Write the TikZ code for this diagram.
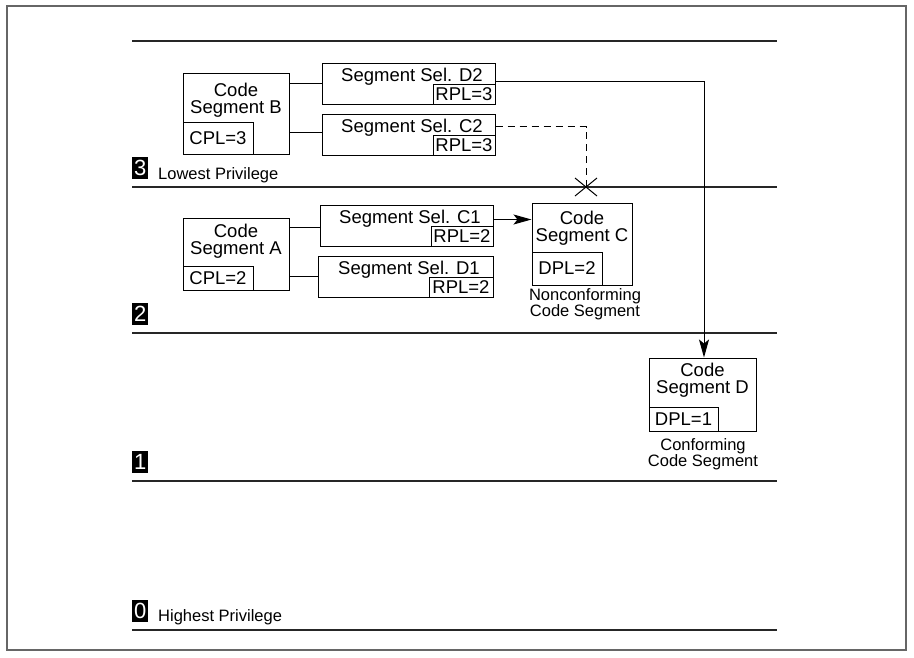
\documentclass[tikz,border=0pt]{standalone}
\usepackage{fontspec}
\setmainfont{Liberation Sans}
\usetikzlibrary{arrows.meta, positioning, calc}

\newcommand{\boxfont}{\fontsize{18.5}{17}\selectfont}
\newcommand{\notefont}{\fontsize{16.5}{16.5}\selectfont}

\begin{document}
\begin{tikzpicture}[
    x=1pt, y=-1pt,
    ring/.style={line width=1.1pt, draw=black!85},
    codebox/.style={draw, line width=1pt, inner sep=0pt},
    selbox/.style={draw, line width=1pt, inner sep=0pt, minimum width=173pt, minimum height=41pt},
    plbox/.style={draw, line width=1pt, inner sep=0pt, font=\boxfont},
    boxtext/.style={inner sep=0pt, align=center, font=\boxfont},
    note/.style={inner sep=0pt, align=center, font=\notefont},
    levelbox/.style={fill=black, text=white, inner sep=0pt, minimum width=16pt, minimum height=22pt, anchor=south west, font=\fontsize{22}{22}\selectfont},
    levelname/.style={inner sep=0pt, anchor=base west, font=\notefont},
    link/.style={line width=1pt},
    arrow/.style={line width=1pt, -{Stealth[length=18pt, width=10pt, inset=4pt]}},
    denied/.style={line width=1pt, dashed, dash pattern=on 7pt off 5pt}
]
    \useasboundingbox (0,0) rectangle (914,657);
    \draw[line width=1.4pt, draw=black!60] (7,6) rectangle (906,650);

    % Privilege rings
    \foreach \y in {41,187,333,481,630}
        \draw[ring] (132,\y) -- (777,\y);

    \node[levelbox] (L3) at (132,179) {3};
    \node[levelbox] (L2) at (132,325) {2};
    \node[levelbox] (L1) at (132,473) {1};
    \node[levelbox] (L0) at (132,622) {0};
    \node[levelname] (L3name) at (158,179) {Lowest Privilege};
    \node[levelname] (L0name) at (158,621) {Highest Privilege};

    % Ring 3: code segment B and its selectors
    \node[codebox, minimum width=106pt, minimum height=81pt] (B) at (236,113.5) {};
    \node[boxtext] (Btext) at (236,100) {Code\\Segment B};
    \node[plbox, anchor=south west, minimum width=70pt, minimum height=32pt] (Bcpl) at (B.south west) {CPL=3};

    \node[selbox] (D2) at (408.5,83.5) {};
    \node[boxtext] (D2text) at (412,77) {Segment Sel. D2};
    \node[plbox, anchor=south east, minimum width=62pt, minimum height=20pt] (D2rpl) at (D2.south east) {RPL=3};

    \node[selbox] (C2) at (408.5,134.5) {};
    \node[boxtext] (C2text) at (412,128) {Segment Sel. C2};
    \node[plbox, anchor=south east, minimum width=62pt, minimum height=20pt] (C2rpl) at (C2.south east) {RPL=3};

    % Ring 2: code segment A, its selectors and segment C
    \node[codebox, minimum width=106pt, minimum height=72pt] (A) at (236,254) {};
    \node[boxtext] (Atext) at (236,241) {Code\\Segment A};
    \node[plbox, anchor=south west, minimum width=70pt, minimum height=24pt] (Acpl) at (A.south west) {CPL=2};

    \node[selbox] (C1) at (406.5,225.5) {};
    \node[boxtext] (C1text) at (410,219) {Segment Sel. C1};
    \node[plbox, anchor=south east, minimum width=62pt, minimum height=20pt] (C1rpl) at (C1.south east) {RPL=2};

    \node[selbox, minimum width=175pt] (D1) at (405.5,276.5) {};
    \node[boxtext] (D1text) at (409,270) {Segment Sel. D1};
    \node[plbox, anchor=south east, minimum width=64pt, minimum height=20pt] (D1rpl) at (D1.south east) {RPL=2};

    \node[codebox, minimum width=100pt, minimum height=82pt] (C) at (582,244) {};
    \node[boxtext] (Ctext) at (582,228) {Code\\Segment C};
    \node[plbox, anchor=south west, minimum width=70pt, minimum height=33pt] (Cdpl) at (C.south west) {DPL=2};
    \node[note] (Cnote) at (585,304) {Nonconforming\\Code Segment};

    % Ring 1: segment D
    \node[codebox, minimum width=107pt, minimum height=73pt] (D) at (702.5,394.5) {};
    \node[boxtext] (Dtext) at (702.5,380) {Code\\Segment D};
    \node[plbox, anchor=south west, minimum width=69pt, minimum height=24pt] (Ddpl) at (D.south west) {DPL=1};
    \node[note] (Dnote) at (703,454) {Conforming\\Code Segment};

    % Connections
    \draw[link] (D2.west) -- (D2.west -| B.east);
    \draw[link] ([yshift=2pt]C2.west) -- ([yshift=2pt]C2.west -| B.east);
    \draw[link] ([yshift=-2pt]C1.west) -- ([yshift=-2pt]C1.west -| A.east);
    \draw[link] (D1.west) -- (D1.west -| A.east);

    \draw[arrow] ([yshift=6pt]C1.east) -- ([yshift=6pt]C1.east -| C.west);
    \draw[arrow] ([yshift=2pt]D2.east) -| ([xshift=1.5pt]D.north);

    \coordinate (xmark) at (586,187);
    \draw[denied] ([yshift=8pt]C2.east) -| (xmark);
    \draw[line width=1pt] ($(xmark)+(-11,-9)$) -- ($(xmark)+(11,9)$)
                          ($(xmark)+(-11,9)$) -- ($(xmark)+(11,-9)$);
\end{tikzpicture}
\end{document}
